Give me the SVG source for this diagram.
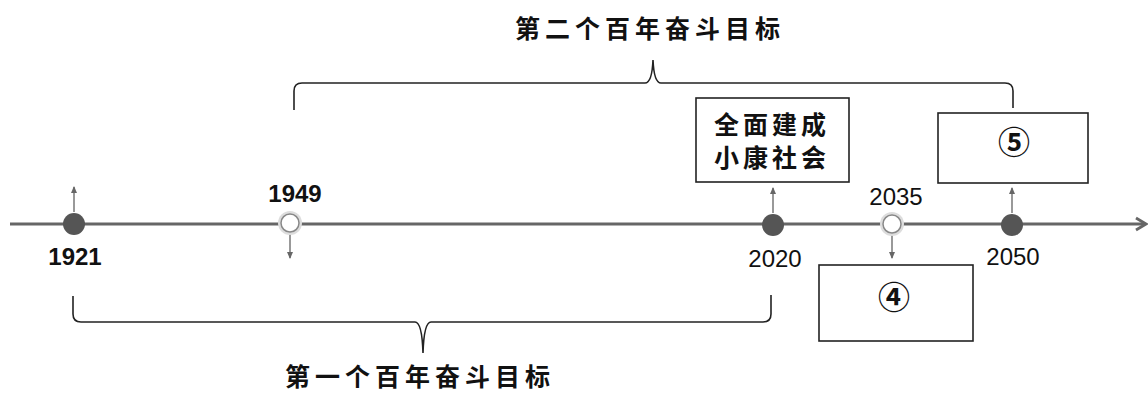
<svg xmlns="http://www.w3.org/2000/svg" width="1148" height="394" viewBox="0 0 1148 394">
<style>
.cjk{font-family:"Noto Sans CJK SC","Noto Sans CJK JP",sans-serif;font-weight:700;fill:#111;}
.title{font-size:25px;letter-spacing:5px;}
.boxtxt{font-size:25px;letter-spacing:4px;}
.yr{font-family:"Liberation Sans",Arial,sans-serif;font-size:24px;fill:#111;text-anchor:middle;}
.yb{font-weight:700;}
.box{fill:#fff;stroke:#222;stroke-width:1.6;}
.brace{fill:none;stroke:#222;stroke-width:1.6;}
.axis{stroke:#666;stroke-width:2.8;fill:none;}
.stem{stroke:#777;stroke-width:1.5;fill:none;marker-end:url(#ah);}
.dot{fill:#555;}
.glow{fill:#ddd;}
.hollow{fill:#fff;stroke:#888;stroke-width:1.5;}
.num{font-family:"Noto Sans CJK SC","DejaVu Sans",sans-serif;font-size:32px;font-weight:700;fill:#111;text-anchor:middle;}
</style>
<defs>
<marker id="ah" markerWidth="8" markerHeight="8" refX="6" refY="4" orient="auto" markerUnits="userSpaceOnUse">
<path d="M0,1 L7,4 L0,7 Z" fill="#666"/>
</marker>
</defs>
<rect width="1148" height="394" fill="#fff"/>

<g id="connectors">
<path class="axis" d="M10,224 L1145,224"/>
<path class="axis" d="M1136,218 L1146,224 L1136,230"/>
<path class="stem" d="M74,212 L74,187"/>
<path class="stem" d="M290,233 L290,258"/>
<path class="stem" d="M773,213 L773,188"/>
<path class="stem" d="M892,234 L892,258"/>
<path class="stem" d="M1012,213 L1012,188"/>
<path class="brace" d="M294,110 L294,91 Q294,83 302,83 L645,83 Q652,83 653,60 Q654,83 661,83 L1005,83 Q1013,83 1013,91 L1013,108"/>
<path class="brace" d="M73,296 L73,314 Q73,322 81,322 L415,322 Q422,322 423,353 Q424,322 431,322 L763,322 Q771,322 771,314 L771,295"/>
</g>

<g id="title-second">
<text class="cjk title" x="515" y="38">第二个百年奋斗目标</text>
</g>
<g id="title-first">
<text class="cjk title" x="285" y="386">第一个百年奋斗目标</text>
</g>

<g id="node-1921">
<circle class="dot" cx="74" cy="224" r="11"/>
<text class="yr yb" x="75" y="265">1921</text>
</g>
<g id="node-1949">
<circle class="glow" cx="290" cy="223" r="12"/>
<circle class="hollow" cx="290" cy="223" r="9"/>
<text class="yr yb" x="295" y="202">1949</text>
</g>
<g id="node-2020">
<circle class="dot" cx="773" cy="225" r="11"/>
<text class="yr" x="775" y="267">2020</text>
</g>
<g id="node-2035">
<circle class="glow" cx="892" cy="224" r="12"/>
<circle class="hollow" cx="892" cy="224" r="9"/>
<text class="yr" x="896" y="205">2035</text>
</g>
<g id="node-2050">
<circle class="dot" cx="1012" cy="225" r="11"/>
<text class="yr" x="1013" y="265">2050</text>
</g>

<g id="box-xiaokang">
<rect class="box" x="696" y="98" width="153" height="84"/>
<text class="cjk boxtxt" x="714" y="134">全面建成</text>
<text class="cjk boxtxt" x="714" y="167">小康社会</text>
</g>
<g id="box-4">
<rect class="box" x="819" y="265" width="154" height="76"/>
<text class="num" x="894" y="309">④</text>
</g>
<g id="box-5">
<rect class="box" x="938" y="113" width="150" height="70"/>
<text class="num" x="1014" y="154">⑤</text>
</g>
</svg>
